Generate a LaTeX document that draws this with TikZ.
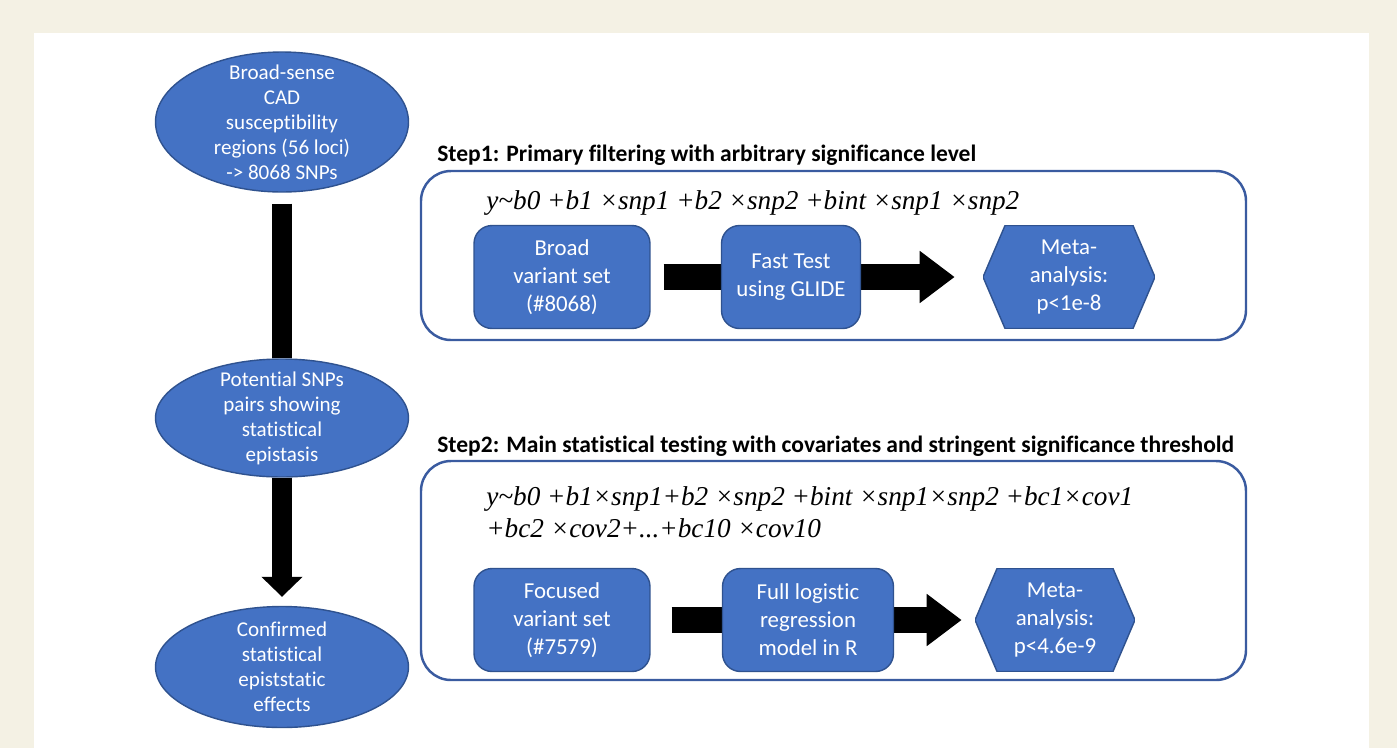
\documentclass[tikz,border=0pt]{standalone}
\usepackage{fontspec}
\setmainfont[Ligatures=NoCommon]{Carlito}
\newfontfamily\formfont{Liberation Serif}
\usetikzlibrary{shapes.geometric,arrows.meta,backgrounds}
\definecolor{nodeblue}{HTML}{4472C4}
\definecolor{nodeedge}{HTML}{2F528F}
\definecolor{frameblue}{HTML}{3A5BA0}
\definecolor{pagebeige}{HTML}{F4F1E4}
\tikzset{
  oval/.style={ellipse, fill=nodeblue, draw=nodeedge, line width=0.8pt, text=white,
    align=center, inner xsep=0pt, inner ysep=-1cm, minimum width=5.06cm,
    font=\fontsize{12}{14.2}\selectfont},
  procbox/.style={rectangle, rounded corners=0.36cm, fill=nodeblue, draw=nodeedge,
    line width=0.8pt, text=white, align=center, minimum height=2.06cm,
    font=\fontsize{13}{16}\selectfont},
  hexbox/.style={rectangle, text=white, align=center, minimum height=2.06cm,
    font=\fontsize{13}{16}\selectfont,
    path picture={\filldraw[fill=nodeblue, draw=nodeedge, line width=0.8pt]
      (path picture bounding box.west)
      -- ([xshift=0.44cm]path picture bounding box.north west)
      -- ([xshift=-0.44cm]path picture bounding box.north east)
      -- (path picture bounding box.east)
      -- ([xshift=-0.44cm]path picture bounding box.south east)
      -- ([xshift=0.44cm]path picture bounding box.south west) -- cycle;}},
  stagebox/.style={draw=frameblue, line width=1.4pt, rounded corners=0.6cm},
  steptitle/.style={anchor=west, inner sep=0pt, font=\fontsize{13.4}{15}\selectfont\bfseries},
  formulatext/.style={anchor=west, align=left, inner sep=0pt,
    font=\formfont\itshape\fontsize{15.5}{18}\selectfont},
  fatarrow/.style={line width=0.52cm, -{Triangle[width=1cm,length=0.7cm]}},
  fatbar/.style={line width=0.4cm}
}
\begin{document}
\begin{tikzpicture}[x=0.02cm, y=-0.02cm]
\begin{scope}[on background layer]
  \fill[pagebeige] (0,0) rectangle (1397,748);
  \fill[white] (34,33) rectangle (1369,748);
\end{scope}
% left column
\node[oval, minimum height=2.8cm] (broadsense) at (282,122) {Broad-sense\\CAD\\susceptibility\\regions (56 loci)\\-> 8068 SNPs};
\node[oval, minimum height=2.36cm] (potential) at (282,418) {Potential SNPs\\pairs showing\\statistical\\epistasis};
\node[oval, minimum height=2.42cm] (confirmed) at (282,667) {Confirmed\\statistical\\epiststatic\\effects};
% step 1
\node[steptitle] (title1) at (437,155) {Step1: Primary filtering with arbitrary significance level};
\draw[stagebox] (421,171) rectangle (1246,340);
\node[formulatext] (model1) at (486,203) {y\textasciitilde b0 +b1 ×snp1 +b2 ×snp2 +bint ×snp1 ×snp2};
\node[procbox, minimum width=3.52cm] (broad) at (562,277) {Broad\\variant set\\(\#8068)};
\node[procbox, minimum width=2.78cm] (fast) at (791,277) {Fast Test\\using GLIDE};
\node[hexbox, minimum width=3.44cm] (meta1) at (1069,277) {Meta-\\analysis:\\p<1e-8};
% step 2
\node[steptitle] (title2) at (437,446) {Step2: Main statistical testing with covariates and stringent significance threshold};
\draw[stagebox] (421,461) rectangle (1246,680);
\node[formulatext] (model2) at (486,512) {y\textasciitilde b0 +b1×snp1+b2 ×snp2 +bint ×snp1×snp2 +bc1×cov1\\+bc2 ×cov2+...+bc10 ×cov10};
\node[procbox, minimum width=3.52cm] (focused) at (562,620) {Focused\\variant set\\(\#7579)};
\node[procbox, minimum width=3.42cm] (full) at (808,620) {Full logistic\\regression\\model in R};
\node[hexbox, minimum width=3.2cm] (meta2) at (1055,620) {Meta-\\analysis:\\p<4.6e-9};
% connectors
\begin{scope}[on background layer]
  \draw[fatbar, shorten <=0.22cm] (broadsense.south) -- (potential.north);
  \draw[fatbar, -{Triangle[width=0.8cm,length=0.4cm]}, shorten >=0.18cm] (potential.south) -- (confirmed.north);
  \draw[fatarrow, shorten <=0.26cm, shorten >=0.56cm] (broad.east) -- (meta1.west);
  \draw[fatarrow, shorten <=0.42cm, shorten >=0.26cm] (focused.east) -- (meta2.west);
\end{scope}
\end{tikzpicture}
\end{document}
